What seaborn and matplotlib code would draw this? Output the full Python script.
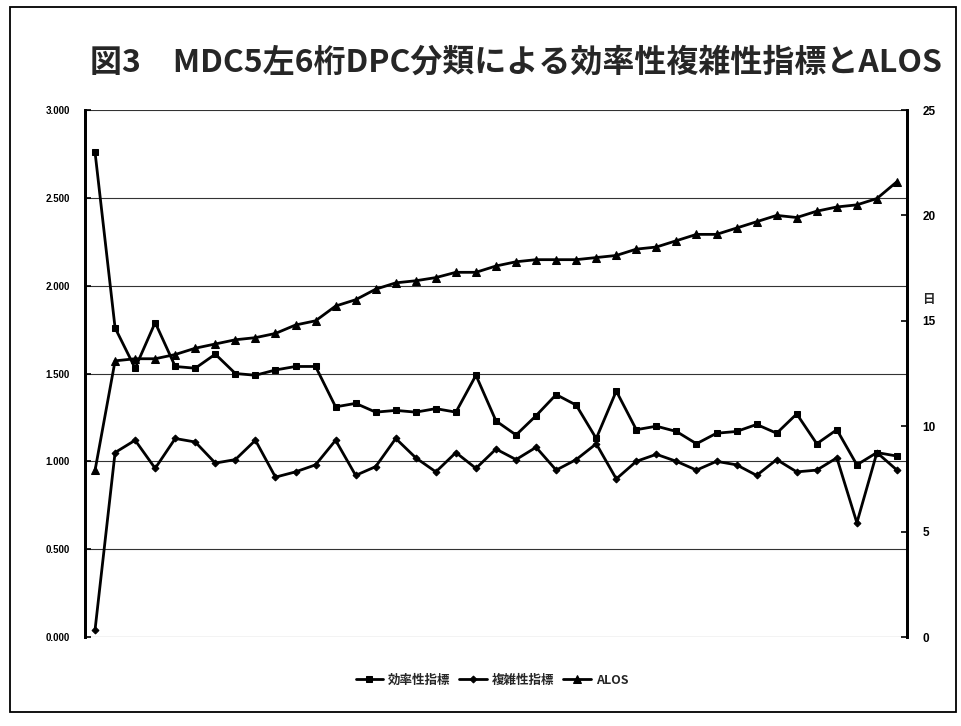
import matplotlib
matplotlib.use("Agg")
import matplotlib.pyplot as plt
from matplotlib.patches import Rectangle
import numpy as np
import pandas as pd
import seaborn as sns

# 41 DPC groups (MDC5, left 6 digits), sorted by ALOS
efficiency = [2.76, 1.76, 1.53, 1.79, 1.54, 1.53, 1.61, 1.50, 1.49, 1.52, 1.54, 1.54,
              1.31, 1.33, 1.28, 1.29, 1.28, 1.30, 1.28, 1.49, 1.23, 1.15, 1.26, 1.38,
              1.32, 1.13, 1.40, 1.18, 1.20, 1.17, 1.10, 1.16, 1.17, 1.21, 1.16, 1.27,
              1.10, 1.18, 0.98, 1.05, 1.03]
complexity = [0.04, 1.05, 1.12, 0.96, 1.13, 1.11, 0.99, 1.01, 1.12, 0.91, 0.94, 0.98,
              1.12, 0.92, 0.97, 1.13, 1.02, 0.94, 1.05, 0.96, 1.07, 1.01, 1.08, 0.95,
              1.01, 1.10, 0.90, 1.00, 1.04, 1.00, 0.95, 1.00, 0.98, 0.92, 1.01, 0.94,
              0.95, 1.02, 0.65, 1.05, 0.95]
alos = [7.9, 13.1, 13.2, 13.2, 13.4, 13.7, 13.9, 14.1, 14.2, 14.4, 14.8, 15.0,
        15.7, 16.0, 16.5, 16.8, 16.9, 17.05, 17.3, 17.3, 17.6, 17.8, 17.9, 17.9,
        17.9, 18.0, 18.1, 18.4, 18.5, 18.8, 19.1, 19.1, 19.4, 19.7, 20.0, 19.9,
        20.2, 20.4, 20.5, 20.8, 21.6]

left_ticks = [0.0, 0.5, 1.0, 1.5, 2.0, 2.5, 3.0]
left_ticklabels = ["0.000", "0.500", "1.000", "1.500", "2.000", "2.500", "3.000"]
right_ticks = [0, 5, 10, 15, 20, 25]
series_names = ["効率性指標", "複雑性指標", "ALOS"]
title = "図3　MDC5左6桁DPC分類による効率性複雑性指標とALOS"

sns.set_theme(style="white")
plt.rcParams["font.family"] = ["Noto Sans CJK JP", "DejaVu Sans"]

df = pd.DataFrame({"idx": np.arange(len(efficiency)),
                   "eff": efficiency, "cmp": complexity, "alos": alos})

fig = plt.figure(figsize=(9.62, 7.26), dpi=100)
ax = fig.add_axes([85 / 962, 1 - 637 / 726, 822 / 962, 527 / 726])
ax2 = ax.twinx()

lw = 2.0
sns.lineplot(data=df, x="idx", y="eff", ax=ax, color="black", lw=lw,
             marker="s", markersize=5, markeredgecolor="black", label=series_names[0],
             legend=False)
sns.lineplot(data=df, x="idx", y="cmp", ax=ax, color="black", lw=lw,
             marker="D", markersize=3.5, markeredgecolor="black", label=series_names[1],
             legend=False)
sns.lineplot(data=df, x="idx", y="alos", ax=ax2, color="black", lw=lw,
             marker="^", markersize=5.5, markeredgecolor="black", label=series_names[2],
             legend=False)

ax.set_xlim(-0.5, len(efficiency) - 0.5)
ax.set_ylim(0, 3.0)
ax2.set_ylim(0, 25)
ax.set_xticks([])
ax.set_xlabel("")
ax.set_ylabel("")
ax2.set_ylabel("")

ax.set_yticks(left_ticks)
ax.set_yticklabels(left_ticklabels, fontsize=7, fontweight="bold",
                   family=["Liberation Sans", "DejaVu Sans"])
ax2.set_yticks(right_ticks)
ax2.set_yticklabels([str(t) for t in right_ticks], fontsize=8.5, fontweight="bold",
                    family=["Liberation Sans", "DejaVu Sans"])
ax.tick_params(axis="y", direction="in", length=4, width=1.2, pad=11, colors="black")
ax2.tick_params(axis="y", direction="in", length=4, width=1.2, pad=11, colors="black")

ax.yaxis.grid(True, color="#333333", lw=0.8)
ax.set_axisbelow(True)
for a in (ax, ax2):
    a.spines["top"].set_visible(False)
    a.spines["bottom"].set_visible(False)
    a.spines["left"].set_linewidth(2.0)
    a.spines["right"].set_linewidth(2.0)
    a.spines["left"].set_color("black")
    a.spines["right"].set_color("black")

ax2.text(1.018, 0.64, "日", transform=ax.transAxes, fontsize=9, fontweight="bold",
         ha="left", va="center")

fig.text(516 / 962, 1 - 63 / 726, title, fontsize=23, fontweight="bold",
         ha="center", va="center")

handles = ax.get_lines()[:2] + ax2.get_lines()[:1]
fig.legend(handles, series_names, loc="center", bbox_to_anchor=(492 / 962, 1 - 680 / 726),
           ncol=3, frameon=False, handlelength=2.2, handletextpad=0.4, columnspacing=0.7,
           prop={"size": 9, "weight": "bold"})

fig.patches.append(Rectangle((10 / 962, 1 - 712 / 726), 946 / 962, 705 / 726,
                             transform=fig.transFigure, fill=False, ec="black", lw=1.3))

fig.savefig("out.png", dpi=100)
